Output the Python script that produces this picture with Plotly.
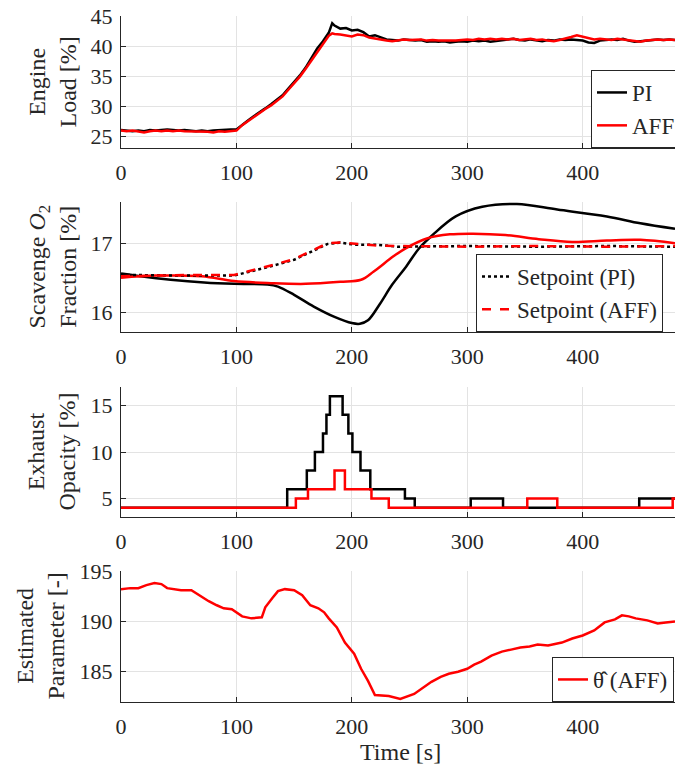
import plotly.graph_objects as go

# --- Engine load [%] ---
load_time = list(range(0, 181, 5)) + [183] + list(range(185, 481, 5))
load_pi = [26.0, 25.9, 25.8, 25.9, 25.8, 26.0, 25.9, 26.0, 26.1, 26.0, 25.9, 26.0, 25.9, 25.8, 25.9, 25.8, 25.9, 26.0, 26.0, 26.1,
           26.1, 26.9, 27.6, 28.3, 28.9, 29.6, 30.3, 31.0, 31.8, 32.9, 34.0, 35.1, 36.4, 37.9, 39.6, 40.8, 42.2,
           43.8,
           43.4, 42.9, 43.0, 42.6, 42.7, 42.3, 41.6, 41.8, 41.4, 41.1, 41.0, 40.9,
           41.1, 41.0, 40.9, 41.0, 40.7, 40.8, 40.7, 40.8, 40.6, 40.7, 40.8, 40.7, 40.9, 40.8, 40.9, 40.7,
           40.8, 40.9, 41.0, 41.2, 41.0, 40.9, 41.1, 40.9, 40.8, 41.0, 40.9, 41.1, 41.0, 41.1, 41.0, 40.9,
           40.6, 40.5, 40.9, 41.0, 41.1, 41.0, 41.2, 40.9, 40.7, 40.8, 40.9, 41.0, 41.1, 41.0, 41.1, 41.0]
load_aff = [25.9, 25.8, 25.9, 25.7, 25.6, 25.8, 25.9, 25.8, 25.9, 25.8, 25.9, 25.8, 25.8, 25.7, 25.8, 25.7, 25.6, 25.8, 25.7, 25.8,
            25.9, 26.8, 27.5, 28.2, 28.8, 29.5, 30.1, 30.9, 31.6, 32.7, 33.8, 34.9, 36.2, 37.6, 39.0, 40.3, 41.7,
            42.1,
            42.0, 41.9, 41.8, 41.6, 41.9, 41.8, 41.4, 41.2, 41.1, 40.9, 40.8, 41.0,
            41.1, 41.0, 41.0, 41.1, 40.9, 41.0, 40.9, 40.9, 40.8, 40.9, 41.0, 41.1, 41.0, 41.2, 41.1, 41.2,
            41.1, 41.2, 41.1, 41.2, 41.0, 41.1, 41.2, 41.0, 41.1, 40.9, 40.8, 41.0, 41.2, 41.5, 41.8, 41.6,
            41.3, 41.1, 41.2, 41.1, 41.0, 41.2, 41.1, 40.9, 40.8, 40.7, 40.9, 41.0, 41.1, 41.0, 41.1, 41.0]

# --- Scavenge O2 fraction [%] ---
o2_pi_time = [0, 17, 43, 72, 98, 127, 136, 150, 167, 185, 200, 207, 214, 224, 235, 247, 258, 270, 290, 313, 343, 378, 421, 450, 480]
o2_pi = [16.56, 16.52, 16.47, 16.43, 16.41, 16.40, 16.37, 16.25, 16.08, 15.93, 15.84, 15.83, 15.88, 16.11, 16.40, 16.66,
         16.92, 17.12, 17.39, 17.53, 17.57, 17.49, 17.39, 17.29, 17.21]
o2_aff_time = [0, 30, 70, 98, 130, 160, 190, 208, 219, 236, 247, 265, 285, 305, 333, 362, 391, 421, 450, 480]
o2_aff = [16.50, 16.53, 16.52, 16.45, 16.42, 16.41, 16.44, 16.47, 16.59, 16.81, 16.93, 17.07, 17.13, 17.14, 17.12, 17.06,
          17.02, 17.04, 17.05, 17.00]
sp_time = [0, 30, 60, 98, 115, 133, 150, 164, 179, 190, 202, 219, 240, 300, 360, 420, 480]
sp_pi = [16.54, 16.53, 16.53, 16.53, 16.60, 16.68, 16.76, 16.87, 16.99, 17.01, 16.98, 16.98, 16.95, 16.96, 16.95, 16.96, 16.95]
sp_aff = [16.52, 16.53, 16.54, 16.54, 16.61, 16.69, 16.77, 16.88, 17.00, 17.01, 16.99, 16.97, 16.96, 16.95, 16.96, 16.95, 16.96]

# --- Exhaust opacity [%] (stepwise) ---
opa_pi_time = [0, 144, 161, 168, 175, 178, 181, 192, 197, 200.5, 207.5, 216, 246, 254.5, 303, 331, 449, 480]
opa_pi = [4, 6, 8, 10, 12, 14, 16, 14, 12, 10, 8, 6, 5, 4, 5, 4, 5, 5]
opa_aff_time = [0, 151.5, 162, 185, 194, 217, 232, 352, 378, 478, 480]
opa_aff = [4, 5, 6, 8, 6, 5, 4, 5, 4, 5, 5]

# --- Estimated parameter [-] ---
theta_time = [0, 8, 15, 22, 29, 35, 40, 46, 52, 61, 68, 76, 83, 89, 96, 100, 105, 113, 122, 125, 128, 131, 136, 142, 150,
              157, 164, 171, 176, 180, 187, 194, 202, 208, 214, 220, 232, 242, 254, 262, 269, 277, 284, 292, 300, 306,
              312, 321, 330, 338, 346, 354, 361, 370, 382, 391, 400, 410, 419, 428, 434, 440, 446, 456, 465, 472, 477, 480]
theta = [193.2, 193.3, 193.3, 193.6, 193.8, 193.7, 193.3, 193.2, 193.1, 193.1, 192.6, 192.0, 191.6, 191.3, 191.2, 190.9,
         190.5, 190.3, 190.4, 191.4, 191.9, 192.3, 193.0, 193.2, 193.1, 192.6, 191.6, 191.3, 190.9, 190.3, 189.4, 187.9,
         186.8, 185.3, 184.1, 182.7, 182.6, 182.3, 182.8, 183.4, 184.0, 184.5, 184.8, 185.0, 185.3, 185.7, 186.0, 186.6,
         187.0, 187.2, 187.4, 187.5, 187.7, 187.6, 187.9, 188.3, 188.6, 189.1, 189.9, 190.2, 190.6, 190.5, 190.3, 190.1,
         189.8, 189.9, 190.0, 190.0]

x_ticks = [0, 100, 200, 300, 400]
y_ranges = [[23, 45], [15.71, 17.6], [3, 17], [182, 195]]
y_ticks = [[25, 30, 35, 40, 45], [16, 17], [5, 10, 15], [185, 190, 195]]
y_titles = ["Engine<br>Load [%]", "Scavenge <i>O</i><sub>2</sub><br>Fraction [%]",
            "Exhaust<br>Opacity [%]", "Estimated<br>Parameter [-]"]

W, H, L = 675, 767, 121
FONT = "Liberation Serif, Times New Roman, Times, serif"
AX = "#262626"
GRID = "#e3e3e3"
BLACK = "#000000"
RED = "#ff0000"

# panel pixel extents (top, bottom)
panels_px = [(16, 148), (202, 332), (387, 517), (571, 702)]
domains = [[1 - b / H, 1 - t / H] for t, b in panels_px]

fig = go.Figure()

fig.add_trace(go.Scatter(x=load_time, y=load_pi, mode="lines", name="PI",
                         line=dict(color=BLACK, width=2.5), xaxis="x", yaxis="y", legend="legend"))
fig.add_trace(go.Scatter(x=load_time, y=load_aff, mode="lines", name="AFF",
                         line=dict(color=RED, width=2.5), xaxis="x", yaxis="y", legend="legend"))

fig.add_trace(go.Scatter(x=o2_pi_time, y=o2_pi, mode="lines", line_shape="spline", showlegend=False,
                         line=dict(color=BLACK, width=2.5), xaxis="x2", yaxis="y2"))
fig.add_trace(go.Scatter(x=o2_aff_time, y=o2_aff, mode="lines", line_shape="spline", showlegend=False,
                         line=dict(color=RED, width=2.5), xaxis="x2", yaxis="y2"))
fig.add_trace(go.Scatter(x=sp_time, y=sp_pi, mode="lines", name="Setpoint (PI)",
                         line=dict(color=BLACK, width=2.5, dash="dot"), xaxis="x2", yaxis="y2", legend="legend2"))
fig.add_trace(go.Scatter(x=sp_time, y=sp_aff, mode="lines", name="Setpoint (AFF)",
                         line=dict(color=RED, width=2.5, dash="dash"), xaxis="x2", yaxis="y2", legend="legend2"))

fig.add_trace(go.Scatter(x=opa_pi_time, y=opa_pi, mode="lines", line_shape="hv", showlegend=False,
                         line=dict(color=BLACK, width=2.5), xaxis="x3", yaxis="y3"))
fig.add_trace(go.Scatter(x=opa_aff_time, y=opa_aff, mode="lines", line_shape="hv", showlegend=False,
                         line=dict(color=RED, width=2.5), xaxis="x3", yaxis="y3"))

fig.add_trace(go.Scatter(x=theta_time, y=theta, mode="lines", name="θ̂\u00a0(AFF)",
                         line=dict(color=RED, width=2.5), xaxis="x4", yaxis="y4", legend="legend3"))

tick_font = dict(family=FONT, size=22, color=AX)
layout = dict(width=W, height=H, paper_bgcolor="white", plot_bgcolor="white",
              margin=dict(l=L, r=0, t=0, b=0, autoexpand=False),
              font=dict(family=FONT, size=22, color=AX))

for i in range(4):
    n = "" if i == 0 else str(i + 1)
    layout["xaxis" + n] = dict(domain=[0, 1], range=[0, 480], tickvals=x_ticks, anchor="y" + n,
                               showgrid=True, gridcolor=GRID, zeroline=False, showline=True, linecolor=AX,
                               linewidth=1, ticks="inside", ticklen=5, tickcolor=AX, tickfont=tick_font,
                               ticklabelstandoff=5)
    layout["yaxis" + n] = dict(domain=domains[i], range=y_ranges[i], tickvals=y_ticks[i], anchor="x" + n,
                               showgrid=True, gridcolor=GRID, zeroline=False, showline=True, linecolor=AX,
                               linewidth=1, ticks="inside", ticklen=5, tickcolor=AX, tickfont=tick_font,
                               ticklabelstandoff=3)

legend_style = dict(bgcolor="white", bordercolor=AX, borderwidth=1, font=dict(family=FONT, size=23, color=AX),
                    itemwidth=30, tracegroupgap=0, xanchor="left", yanchor="bottom", orientation="v")
layout["legend"] = dict(legend_style, x=(591 - L) / (W - L), y=domains[0][0])
layout["legend2"] = dict(legend_style, x=(476 - L) / (W - L), y=domains[1][0])
layout["legend3"] = dict(legend_style, x=(552 - L) / (W - L), y=domains[3][0])

title_x = [51.5, 51.5, 51.5, 40]
annotations = []
for i in range(4):
    annotations.append(dict(text=y_titles[i], xref="paper", yref="paper",
                            x=(title_x[i] - L) / (W - L), y=sum(domains[i]) / 2,
                            xanchor="center", yanchor="middle", textangle=-90, showarrow=False,
                            font=dict(family=FONT, size=24, color=AX)))
annotations.append(dict(text="Time [s]", xref="paper", yref="paper", x=(400 - L) / (W - L), y=(H - 752) / H,
                        xanchor="center", yanchor="middle", showarrow=False,
                        font=dict(family=FONT, size=24, color=AX)))
layout["annotations"] = annotations

fig.update_layout(**layout)
fig.write_html("out.html", config={"displayModeBar": False},
               post_script="document.body.style.margin='0px';")
